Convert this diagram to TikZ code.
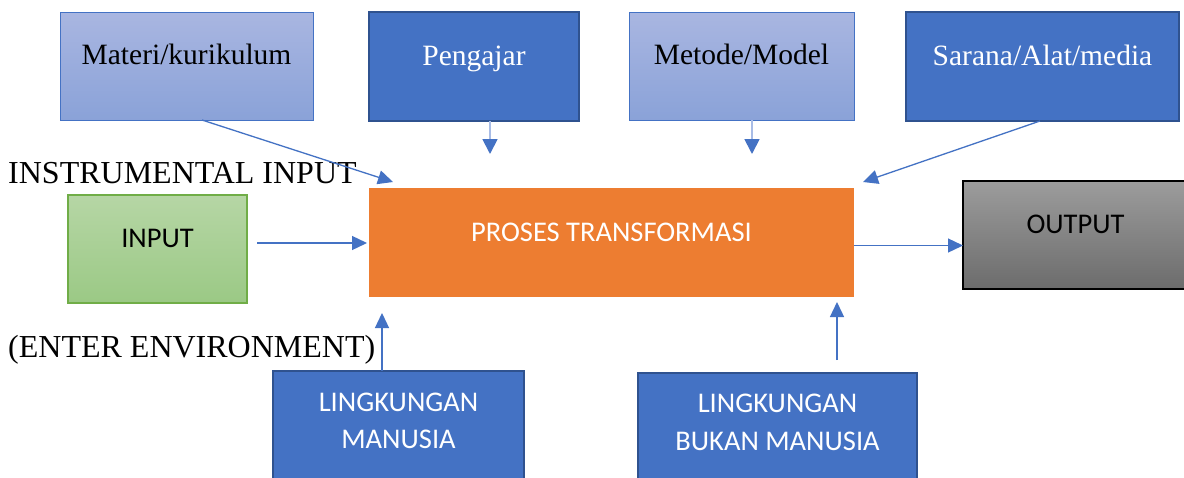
\documentclass[tikz,border=0pt]{standalone}
\usepackage{fontspec}
\setmainfont{Liberation Serif}
\newfontfamily\calibrifont{Carlito}
\usetikzlibrary{arrows.meta,calc}

\definecolor{accentblue}{HTML}{4472C4}
\definecolor{deepedge}{HTML}{2F528F}
\definecolor{paletop}{HTML}{A9B6E1}
\definecolor{palebottom}{HTML}{8AA2D8}
\definecolor{greentop}{HTML}{B6D6A5}
\definecolor{greenbottom}{HTML}{9BC985}
\definecolor{greenedge}{HTML}{70AD47}
\definecolor{procorange}{HTML}{ED7D31}
\definecolor{greytop}{HTML}{9C9C9C}
\definecolor{greybottom}{HTML}{6C6C6C}
\definecolor{faintblue}{HTML}{A8BCE6}

\begin{document}
\begin{tikzpicture}[x=1pt,y=-1pt,
  box/.style={rectangle, inner sep=0pt, outer sep=0pt},
  paleblue/.style={box, draw=accentblue, line width=0.9pt, top color=paletop, bottom color=palebottom},
  deepblue/.style={box, draw=deepedge, line width=1.8pt, fill=accentblue},
  greenbox/.style={box, draw=greenedge, line width=1.4pt, top color=greentop, bottom color=greenbottom},
  procbox/.style={box, fill=procorange},
  greybox/.style={box, draw=black, line width=1.3pt, top color=greytop, bottom color=greybottom},
  roman/.style={font=\fontsize{29.5}{35}\selectfont},
  sidelabel/.style={font=\fontsize{32}{38}\selectfont, anchor=base west, inner sep=0pt},
  sans/.style={font=\calibrifont\fontsize{28.5}{34}\selectfont},
  boxtext/.style={anchor=base, yshift=1.5pt, inner sep=0pt},
  link/.style={draw=accentblue, line width=1.3pt, -{Triangle[length=15pt,width=14pt]}},
  faintlink/.style={draw=faintblue, line width=1.8pt, -{Triangle[length=15pt,width=15pt,color=accentblue]}}
]
\useasboundingbox (0,0) rectangle (1184,477);
\fill[white] (0,0) rectangle (1184,477);

% instrumental input boxes
\node[paleblue, minimum width=253pt, minimum height=108pt] (materi) at (186.5,66) {};
\node[deepblue, minimum width=210pt, minimum height=109pt] (pengajar) at (474,66.5) {};
\node[paleblue, minimum width=225pt, minimum height=108pt] (metode) at (741.5,66) {};
\node[deepblue, minimum width=273pt, minimum height=109pt] (sarana) at (1042.5,66.5) {};

\node[roman, boxtext] (materiText) at (materi.center) {Materi/kurikulum};
\node[roman, boxtext, text=white] (pengajarText) at (pengajar.center) {Pengajar};
\node[roman, boxtext] (metodeText) at (metode.center) {Metode/Model};
\node[roman, boxtext, text=white] (saranaText) at (sarana.center) {Sarana/Alat/media};

% main row
\node[greenbox, minimum width=179pt, minimum height=108pt] (input) at (157.5,249) {};
\node[procbox, minimum width=485pt, minimum height=109pt] (proses) at (611.5,242.5) {};
\node[greybox, minimum width=240pt, minimum height=108pt] (output) at (1083,235) {};

\node[sans, boxtext] (inputText) at (input.center) {INPUT};
\node[sans, boxtext, text=white] (prosesText) at (proses.center) {PROSES TRANSFORMASI};
\node[sans, boxtext] (outputText) at ([xshift=-7.5pt]output.center) {OUTPUT};

% environment boxes
\node[deepblue, minimum width=251pt, minimum height=112pt] (lingm) at (398.5,427) {};
\node[deepblue, minimum width=279pt, minimum height=112pt] (lingb) at (777.5,429) {};

\node[sans, anchor=base, inner sep=0pt, text=white] (lingmTop) at ($(lingm.north)+(0,40)$) {LINGKUNGAN};
\node[sans, anchor=base, inner sep=0pt, text=white] (lingmBottom) at ($(lingm.north)+(0,77)$) {MANUSIA};
\node[sans, anchor=base, inner sep=0pt, text=white] (lingbTop) at ($(lingb.north)+(0,39)$) {LINGKUNGAN};
\node[sans, anchor=base, inner sep=0pt, text=white] (lingbBottom) at ($(lingb.north)+(0,77)$) {BUKAN MANUSIA};

% side labels
\node[sidelabel] (instrLabel) at (8,183) {INSTRUMENTAL INPUT};
\node[sidelabel] (enterLabel) at (8,357) {(ENTER ENVIRONMENT)};

% arrow ends
\coordinate (materiTip) at ($(proses.north west)+(24,-6)$);
\coordinate (pengajarTip) at ($(pengajar.south)+(16,33)$);
\coordinate (metodeTip) at ($(metode.south)+(10.5,34)$);
\coordinate (saranaTip) at ($(proses.north east)+(9,-6)$);
\coordinate (inputTail) at ($(input.east)+(10,-6)$);
\coordinate (procTail) at ($(proses.east)+(0,3)$);
\coordinate (lingmTip) at ($(lingm.north)+(-16.5,-58)$);
\coordinate (lingbTail) at ($(lingb.north)+(59.5,-13)$);
\coordinate (lingbTip) at ($(lingb.north)+(59.5,-71)$);

% connectors
\draw[link] ([xshift=15.5pt]materi.south) -- (materiTip);
\draw[faintlink] ([xshift=16pt]pengajar.south) -- (pengajarTip);
\draw[faintlink] ([xshift=10.5pt]metode.south) -- (metodeTip);
\draw[link] ([xshift=-2.5pt]sarana.south) -- (saranaTip);
\draw[link, shorten >=2pt] (inputTail) -- (inputTail -| proses.west);
\draw[link] (procTail) -- (procTail -| output.west);
\draw[link] ([xshift=-16.5pt]lingm.north) -- (lingmTip);
\draw[link] (lingbTail) -- (lingbTip);
\end{tikzpicture}
\end{document}
